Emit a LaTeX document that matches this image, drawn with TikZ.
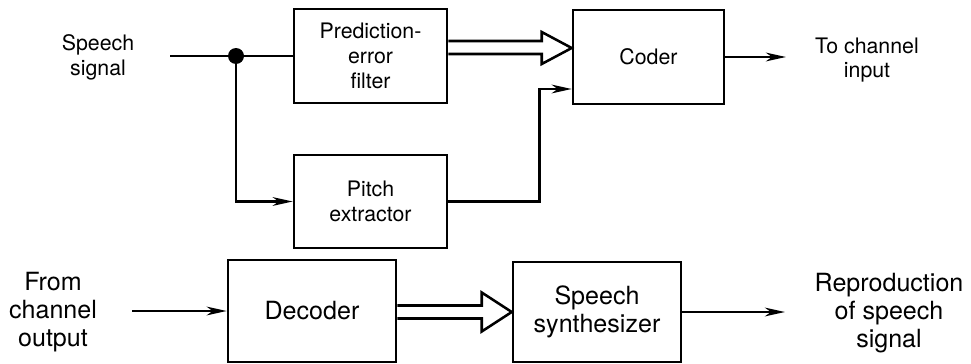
\documentclass[tikz,border=0pt]{standalone}
\usepackage{fontspec}
\setmainfont{TeX Gyre Heros}
\usetikzlibrary{arrows.meta,calc}

\tikzset{every picture/.style={line width=0.75pt}}
\tikzset{
  blk/.style={draw, line width=1.9pt, align=center, inner sep=0pt},
  upblk/.style={blk, minimum width=114.75pt, minimum height=70.5pt, font=\fontsize{16}{18.6}\selectfont},
  lowblk/.style={blk, minimum width=126pt, minimum height=76.5pt, font=\fontsize{18.8}{21}\selectfont},
  uptxt/.style={align=center, inner sep=0pt, font=\fontsize{16}{18.6}\selectfont},
  lowtxt/.style={align=center, inner sep=0pt, font=\fontsize{18.8}{21}\selectfont},
  wire/.style={line width=2pt},
  sig/.style={wire, -{Stealth[length=15pt,width=6.5pt,inset=4.5pt]}},
  hollow/.style={line width=1.9pt, line join=miter}
}

\begin{document}
\begin{tikzpicture}[x=0.75pt,y=0.75pt,yscale=-1,xscale=1]
\useasboundingbox (0,0) rectangle (971,364);

%Shape: Rectangle [filter]
\node [upblk] (filter) at (370.5,56) {Prediction-\\error\\filter};
%Shape: Rectangle [coder]
\node [upblk, minimum width=113.25pt] (coder) at (648.5,57) {Coder};
%Shape: Rectangle [pitch]
\node [upblk, minimum height=69.75pt] (pitch) at (370.5,201.5) {Pitch\\extractor};
%Shape: Rectangle [decoder]
\node [lowblk] (decoder) at (312,311) {Decoder};
%Shape: Rectangle [synth]
\node [lowblk, minimum height=75pt] (synth) at (597,312) {Speech\\synthesizer};

% Text Node
\node [uptxt] (speech) at (98,57) {Speech\\signal};
% Text Node
\node [uptxt] (tochan) at (867,60) {To channel\\input};
% Text Node
\node [lowtxt] (fromchan) at (53,312) {From\\channel\\output};
% Text Node
\node [lowtxt] (repro) at (889,313) {Reproduction\\of speech\\signal};

% line ends (yshift runs downwards here, since yscale=-1)
\coordinate (in) at (170,56);
\coordinate (split) at (236,56);
\coordinate (out) at (786,57);
\coordinate (chin) at (132,311);
\coordinate (rout) at (785,312);
\coordinate (ftip) at ([yshift=-6.75pt]coder.west);
\coordinate (stip) at (synth.west);

%Straight Lines [input and pick-off]
\draw [wire] (in) -- (filter.west);
\fill (split) circle (6pt);
\draw [sig] (split) |- (pitch.west);
%Straight Lines [pitch to coder]
\draw [sig] (pitch.east) -- ++(91,0) |- ([yshift=24pt]coder.west);
%Straight Lines [outputs]
\draw [sig] (coder.east) -- (out);
\draw [sig] (chin) -- (decoder.west);
\draw [sig] (synth.east) -- (rout);

%Shape: Hollow arrow [filter to coder]
\draw [hollow] ($(filter.east |- ftip)+(0,-7)$) -- ($(ftip)+(-30,-7)$) -- ($(ftip)+(-30,-16)$) -- (ftip)
  -- ($(ftip)+(-30,16)$) -- ($(ftip)+(-30,6)$) -- ($(filter.east |- ftip)+(0,6)$);
%Shape: Hollow arrow [decoder to synth]
\draw [hollow] ($(decoder.east |- stip)+(0,-6.5)$) -- ($(stip)+(-30,-6.5)$) -- ($(stip)+(-30,-19.5)$) -- (stip)
  -- ($(stip)+(-30,19.5)$) -- ($(stip)+(-30,6.5)$) -- ($(decoder.east |- stip)+(0,6.5)$);

\end{tikzpicture}
\end{document}
